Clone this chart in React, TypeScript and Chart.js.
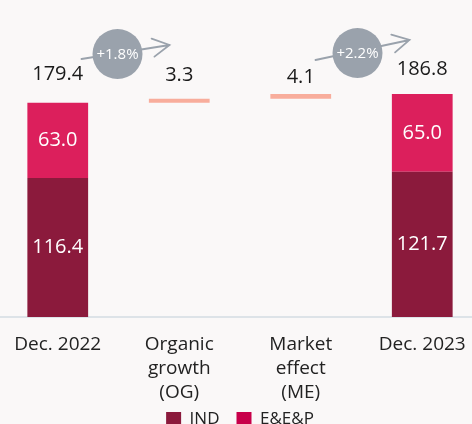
import React, { useEffect, useRef } from 'react';
import { Chart, registerables } from 'chart.js';

Chart.register(...registerables);

const categories: string[][] = [['Dec. 2022'], ['Organic', 'growth', '(OG)'], ['Market', 'effect', '(ME)'], ['Dec. 2023']];
const indValues: (number | null)[] = [116.4, null, null, 121.7];
const eepValues: (number | null)[] = [63.0, null, null, 65.0];
const changeValues: (number | null)[] = [null, 3.3, 4.1, null];
const totalValues: (number | null)[] = [179.4, null, null, 186.8];
const growthLabels: string[] = ['+1.8%', '+2.2%'];

const FONT = "'Open Sans', sans-serif";
const IND_COLOR = '#8b1a3c';
const EEP_COLOR = '#dc1f5c';
const EEP_LEGEND = '#c8004a';
const CHANGE_COLOR = '#f8ad9c';
const GREY = '#9aa2ac';

// running totals for floating change bars
const changeRanges: ([number, number] | null)[] = (() => {
  let running = 0;
  return categories.map((_, i) => {
    if (totalValues[i] != null) {
      running = totalValues[i] as number;
      return null;
    }
    const start = running;
    running = +(running + (changeValues[i] as number)).toFixed(1);
    return [start, running];
  });
})();

const topOffsets = [29, 24, 17, 25];

const legendShift = {
  id: 'legendShift',
  afterLayout(chart: any) {
    if (chart.legend) {
      chart.legend.top -= 15;
      chart.legend.bottom -= 15;
    }
  },
};

const labelPlugin = {
  id: 'labels',
  afterDatasetsDraw(chart: any) {
    const ctx = chart.ctx;
    ctx.save();
    ctx.textAlign = 'center';
    ctx.textBaseline = 'middle';
    // inside labels
    [0, 1].forEach((di) => {
      const meta = chart.getDatasetMeta(di);
      meta.data.forEach((bar: any, i: number) => {
        const v = chart.data.datasets[di].data[i];
        if (v == null) return;
        ctx.fillStyle = '#ffffff';
        ctx.font = `400 20px ${FONT}`;
        ctx.fillText((v as number).toFixed(1), bar.x, (bar.y + bar.base) / 2);
      });
    });
    // top labels
    categories.forEach((_, i) => {
      let top = Infinity;
      let x = 0;
      chart.data.datasets.forEach((ds: any, di: number) => {
        if (ds.data[i] == null) return;
        const bar = chart.getDatasetMeta(di).data[i];
        top = Math.min(top, bar.y, bar.base);
        x = bar.x;
      });
      const val = totalValues[i] != null ? totalValues[i] : changeValues[i];
      ctx.fillStyle = '#1a1a1a';
      ctx.font = `400 20px ${FONT}`;
      ctx.fillText((val as number).toFixed(1), x, top - topOffsets[i]);
    });
    // growth circles with arrows
    const xs = chart.scales.x;
    const ann = [
      { x: (xs.getPixelForValue(0) + xs.getPixelForValue(1)) / 2 - 1, y: 54, sx: -36, sy: 5, ex: 52, ey: -9 },
      { x: (xs.getPixelForValue(2) + xs.getPixelForValue(3)) / 2 - 4, y: 53, sx: -42, sy: 7, ex: 52, ey: -13 },
    ];
    ann.forEach((a, k) => {
      const x1 = a.x + a.sx, y1 = a.y + a.sy, x2 = a.x + a.ex, y2 = a.y + a.ey;
      ctx.strokeStyle = GREY;
      ctx.lineWidth = 1.8;
      ctx.lineCap = 'round';
      ctx.beginPath();
      ctx.moveTo(x1, y1);
      ctx.lineTo(x2, y2);
      const ang = Math.atan2(y2 - y1, x2 - x1);
      const L = 19, spread = 0.5;
      ctx.moveTo(x2 - L * Math.cos(ang - spread), y2 - L * Math.sin(ang - spread));
      ctx.lineTo(x2, y2);
      ctx.lineTo(x2 - L * Math.cos(ang + spread), y2 - L * Math.sin(ang + spread));
      ctx.stroke();
      ctx.fillStyle = GREY;
      ctx.beginPath();
      ctx.arc(a.x, a.y, 25, 0, Math.PI * 2);
      ctx.fill();
      ctx.fillStyle = '#ffffff';
      ctx.font = `400 15px ${FONT}`;
      ctx.fillText(growthLabels[k], a.x, a.y + 1);
    });
    ctx.restore();
  },
};

export default function App() {
  const ref = useRef<HTMLCanvasElement | null>(null);
  useEffect(() => {
    if (!ref.current) return;
    const chart = new Chart(ref.current, {
      type: 'bar',
      data: {
        labels: categories,
        datasets: [
          { label: 'IND', data: indValues, backgroundColor: IND_COLOR, stack: 's' },
          { label: 'E&E&P', data: eepValues, backgroundColor: EEP_COLOR, stack: 's' },
          { label: 'change', data: changeRanges as any, backgroundColor: CHANGE_COLOR, stack: 's' },
        ],
      },
      options: {
        animation: false,
        responsive: false,
        maintainAspectRatio: false,
        datasets: { bar: { categoryPercentage: 0.5, barPercentage: 1 } },
        layout: { padding: 0 },
        scales: {
          x: {
            stacked: true,
            grid: { display: false },
            border: { display: true, color: '#dde3e8', width: 2 },
            ticks: {
              autoSkip: false,
              maxRotation: 0,
              padding: 8,
              color: '#222222',
              font: { family: FONT, size: 19, lineHeight: 1.25 },
            },
            afterFit: (scale: any) => { scale.height = 92; },
          },
          y: { stacked: true, display: false, min: 0, max: 265.5 },
        },
        plugins: {
          legend: {
            position: 'bottom',
            labels: {
              boxWidth: 15,
              boxHeight: 15,
              padding: 17,
              color: '#222222',
              font: { family: FONT, size: 17 },
              filter: (item: any) => item.datasetIndex !== 2,
              generateLabels: (c: any) => {
                const items = Chart.defaults.plugins.legend.labels.generateLabels(c);
                items.forEach((it: any) => {
                  it.lineWidth = 0;
                  if (it.datasetIndex === 1) it.fillStyle = EEP_LEGEND;
                });
                return items;
              },
            },
          },
          tooltip: { enabled: false },
        },
      },
      plugins: [labelPlugin, legendShift],
    });
    return () => chart.destroy();
  }, []);
  return (
    <div style={{ position: 'fixed', left: 0, top: 0, width: 472, height: 424, overflow: 'hidden', background: '#faf8f8' }}>
      <div style={{ position: 'absolute', left: -3, top: 0, width: 486, height: 453 }}>
        <canvas ref={ref} width={486} height={453} style={{ display: 'block' }} />
      </div>
    </div>
  );
}
